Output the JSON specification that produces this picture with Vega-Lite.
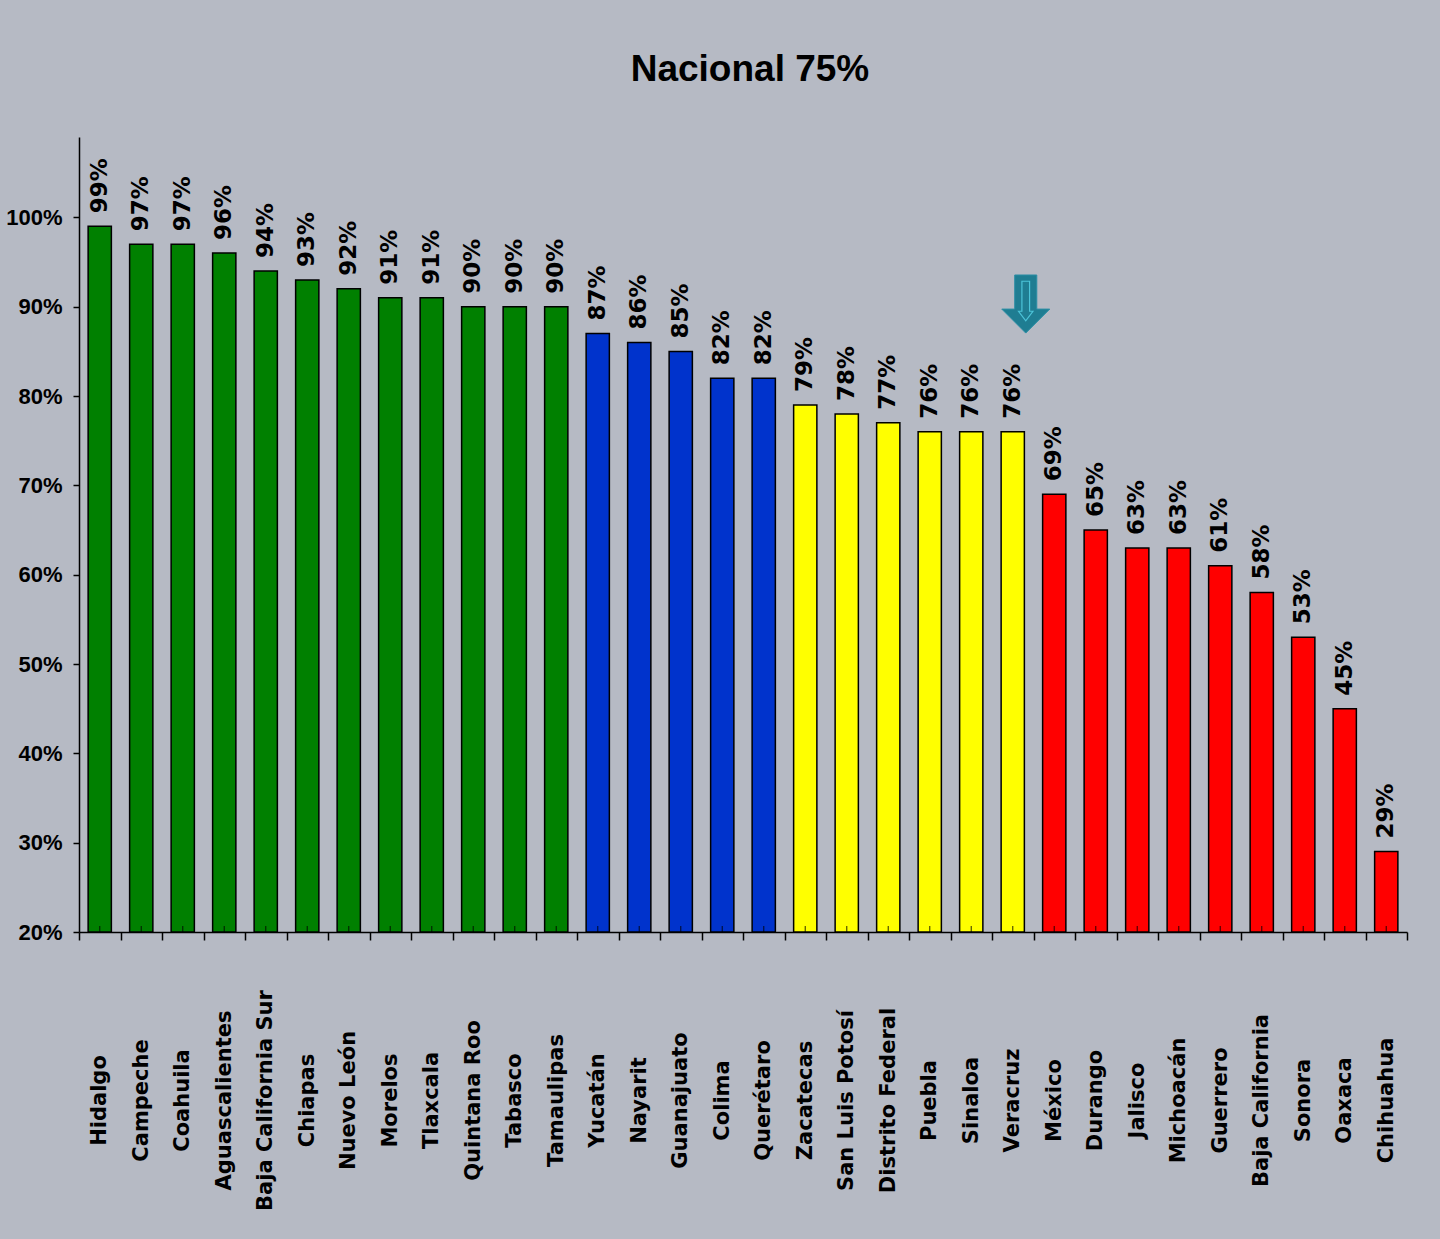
{
  "$schema": "https://vega.github.io/schema/vega-lite/v6.json",
  "width": 1328,
  "height": 795,
  "autosize": {"type": "none"},
  "padding": {"left": 79, "top": 137, "right": 33, "bottom": 307},
  "background": "#b6bac4",
  "config": {"view": {"stroke": null}},
  "title": {
    "text": "Nacional 75%",
    "font": "Liberation Sans, Arial, sans-serif",
    "fontSize": 37,
    "fontWeight": "bold",
    "color": "#000000",
    "anchor": "middle",
    "frame": "group",
    "baseline": "alphabetic",
    "offset": 19,
    "dx": 7
  },
  "data": {
    "values": [
      {"estado": "Hidalgo", "valor": 0.99, "grupo": "verde"},
      {"estado": "Campeche", "valor": 0.97, "grupo": "verde"},
      {"estado": "Coahuila", "valor": 0.97, "grupo": "verde"},
      {"estado": "Aguascalientes", "valor": 0.96, "grupo": "verde"},
      {"estado": "Baja California Sur", "valor": 0.94, "grupo": "verde"},
      {"estado": "Chiapas", "valor": 0.93, "grupo": "verde"},
      {"estado": "Nuevo León", "valor": 0.92, "grupo": "verde"},
      {"estado": "Morelos", "valor": 0.91, "grupo": "verde"},
      {"estado": "Tlaxcala", "valor": 0.91, "grupo": "verde"},
      {"estado": "Quintana Roo", "valor": 0.90, "grupo": "verde"},
      {"estado": "Tabasco", "valor": 0.90, "grupo": "verde"},
      {"estado": "Tamaulipas", "valor": 0.90, "grupo": "verde"},
      {"estado": "Yucatán", "valor": 0.87, "grupo": "azul"},
      {"estado": "Nayarit", "valor": 0.86, "grupo": "azul"},
      {"estado": "Guanajuato", "valor": 0.85, "grupo": "azul"},
      {"estado": "Colima", "valor": 0.82, "grupo": "azul"},
      {"estado": "Querétaro", "valor": 0.82, "grupo": "azul"},
      {"estado": "Zacatecas", "valor": 0.79, "grupo": "amarillo"},
      {"estado": "San Luis Potosí", "valor": 0.78, "grupo": "amarillo"},
      {"estado": "Distrito Federal", "valor": 0.77, "grupo": "amarillo"},
      {"estado": "Puebla", "valor": 0.76, "grupo": "amarillo"},
      {"estado": "Sinaloa", "valor": 0.76, "grupo": "amarillo"},
      {"estado": "Veracruz", "valor": 0.76, "grupo": "amarillo"},
      {"estado": "México", "valor": 0.69, "grupo": "rojo"},
      {"estado": "Durango", "valor": 0.65, "grupo": "rojo"},
      {"estado": "Jalisco", "valor": 0.63, "grupo": "rojo"},
      {"estado": "Michoacán", "valor": 0.63, "grupo": "rojo"},
      {"estado": "Guerrero", "valor": 0.61, "grupo": "rojo"},
      {"estado": "Baja California", "valor": 0.58, "grupo": "rojo"},
      {"estado": "Sonora", "valor": 0.53, "grupo": "rojo"},
      {"estado": "Oaxaca", "valor": 0.45, "grupo": "rojo"},
      {"estado": "Chihuahua", "valor": 0.29, "grupo": "rojo"}
    ]
  },
  "layer": [
    {
      "mark": {"type": "bar", "stroke": "#000000", "strokeWidth": 1.5, "width": {"band": 0.56}},
      "encoding": {
        "x": {
          "field": "estado",
          "type": "nominal",
          "sort": null,
          "scale": {"paddingInner": 0, "paddingOuter": 0},
          "axis": {
            "title": null,
            "tickBand": "extent",
            "tickSize": 8,
            "tickColor": "#000000",
            "tickWidth": 1.5,
            "domainColor": "#000000",
            "domainWidth": 1.5,
            "labelAngle": -90,
            "labelAlign": "center",
            "labelBaseline": "middle",
            "labelPadding": 160,
            "labelFont": "DejaVu Sans",
            "labelFontWeight": "bold",
            "labelFontSize": 21,
            "labelColor": "#000000",
            "labelOverlap": false,
            "labelBound": false,
            "labelFlush": false,
            "labelLimit": 400
          }
        },
        "y": {
          "field": "valor",
          "type": "quantitative",
          "scale": {"domain": [0.2, 1.09], "zero": false, "nice": false},
          "axis": {
            "title": null,
            "values": [0.2, 0.3, 0.4, 0.5, 0.6, 0.7, 0.8, 0.9, 1.0],
            "format": ".0%",
            "grid": false,
            "tickSize": 6,
            "tickColor": "#000000",
            "tickWidth": 1.5,
            "domainColor": "#000000",
            "domainWidth": 1.5,
            "labelFont": "Liberation Sans, Arial, sans-serif",
            "labelFontWeight": "bold",
            "labelFontSize": 22,
            "labelColor": "#000000",
            "labelPadding": 11,
            "labelFlush": false,
            "labelOverlap": false
          }
        },
        "y2": {"datum": 0.2},
        "color": {
          "field": "grupo",
          "type": "nominal",
          "scale": {"domain": ["verde", "azul", "amarillo", "rojo"], "range": ["#008000", "#0033cc", "#ffff00", "#ff0000"]},
          "legend": null
        }
      }
    },
    {
      "mark": {
        "type": "text",
        "angle": -90,
        "align": "left",
        "baseline": "middle",
        "dx": 13,
        "font": "DejaVu Sans",
        "fontWeight": "bold",
        "fontSize": 23,
        "color": "#000000"
      },
      "encoding": {
        "x": {"field": "estado", "type": "nominal", "sort": null},
        "y": {"field": "valor", "type": "quantitative"},
        "text": {"field": "valor", "type": "quantitative", "format": ".0%"}
      }
    },
    {
      "mark": {"type": "tick", "orient": "vertical", "size": 6, "thickness": 1.2, "color": "#000000", "yOffset": -3},
      "encoding": {
        "x": {"field": "estado", "type": "nominal", "sort": null},
        "y": {"datum": 0.2}
      }
    },
    {
      "transform": [{"filter": "datum.estado === 'Veracruz'"}],
      "mark": {
        "type": "point",
        "shape": "M-0.46,-1.21L0.46,-1.21L0.46,0.21L1,0.21L0,1.21L-1,0.21L-0.46,0.21Z",
        "size": 2304,
        "filled": true,
        "color": "#1f7d92",
        "stroke": "#2b8fa5",
        "strokeWidth": 1,
        "opacity": 1,
        "xOffset": 13
      },
      "encoding": {
        "x": {"field": "estado", "type": "nominal", "sort": null},
        "y": {"datum": 0.903}
      }
    },
    {
      "transform": [{"filter": "datum.estado === 'Veracruz'"}],
      "mark": {
        "type": "point",
        "shape": "M-0.16,-0.95L0.16,-0.95L0.16,0.3L0.3,0.3L0,0.7L-0.3,0.3L-0.16,0.3Z",
        "size": 2304,
        "filled": false,
        "stroke": "#4cc3d8",
        "strokeWidth": 1.2,
        "opacity": 1,
        "xOffset": 13
      },
      "encoding": {
        "x": {"field": "estado", "type": "nominal", "sort": null},
        "y": {"datum": 0.903}
      }
    }
  ]
}
